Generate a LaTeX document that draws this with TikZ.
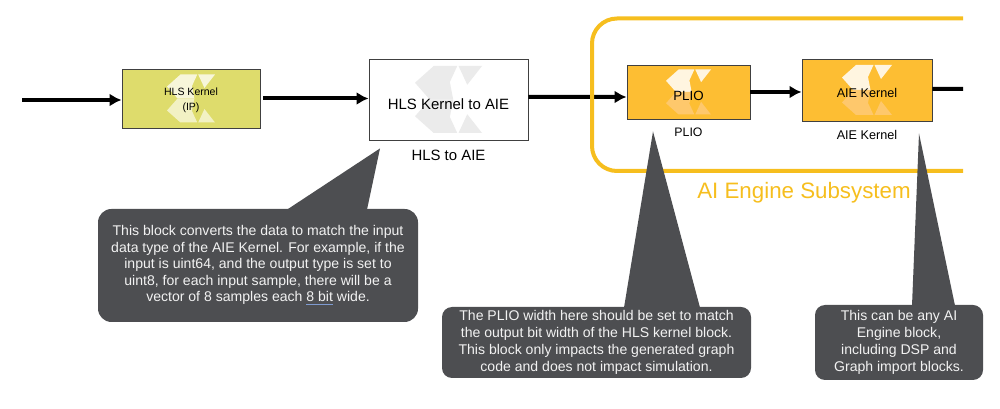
\documentclass[tikz,border=0pt]{standalone}
\usepackage{fontspec}
\setmainfont{Liberation Sans}
\usepackage{xcolor}
\usetikzlibrary{arrows.meta,positioning,shadows}

\definecolor{calloutgray}{HTML}{4D4E51}
\definecolor{subsysyellow}{HTML}{F6BE1E}
\definecolor{kernelgreen}{HTML}{DEDC6C}
\definecolor{blockorange}{HTML}{FDBE33}
\definecolor{spellblue}{HTML}{7F9BD0}

\begin{document}
\begin{tikzpicture}[
    auto,
    node distance=2cm,
    >={Latex[length=0.24cm,width=0.26cm]},
    pics/xlogo/.style 2 args={
		code={
			\fill [#1] (-.5,.25) -- (-.22,.5) -- (.13,.5) -- (.02,.26) -- (.07,0) -- (-.28,0) -- cycle;
			\fill [#1] (.15,.5) -- (.5,.5) -- (.28,.22) -- cycle;
			\fill [#2] (-.5,-.25) -- (-.22,-.5) -- (.13,-.5) -- (.02,-.26) -- (.07,0) -- (-.28,0) -- cycle;
			\fill [#2] (.15,-.5) -- (.5,-.5) -- (.28,-.22) -- cycle;
		}
	},
	block/.style={
		rectangle,
		draw=black!75,
		line width=0.5pt,
		inner sep=0pt,
		text centered,
		align=center,
		text=black
	},
	shadowed/.style={
		drop shadow={shadow xshift=0.02cm, shadow yshift=-0.03cm, opacity=0.35}
	},
	wire/.style={
		->,
		line width=0.08cm
	},
	subsys/.style={
		draw=subsysyellow,
		line width=0.08cm,
		rounded corners=0.5cm
	},
	callout/.style={
		rectangle,
		rounded corners=0.2cm,
		fill=calloutgray,
		text=white!95!black,
		inner sep=0pt,
		align=center,
		font=\fontsize{8}{9.6}\selectfont
	},
	pointer/.style={
		fill=calloutgray
	},
	caption/.style={
		inner sep=0pt,
		text=black
	}
  ]

 \useasboundingbox (0,0) rectangle (20,-8.18);

 \node [block, shadowed, fill=kernelgreen, minimum width=2.76cm, minimum height=1.18cm,
 font=\fontsize{6}{8.8}\selectfont,
 path picture={\pic [scale=0.96] at (path picture bounding box.center) {xlogo={fill=white!75!kernelgreen}{fill=white!60!kernelgreen}};}]
 (kernel) at (3.82,-1.97) {\rule{0pt}{6.6pt}HLS Kernel\\(IP)};

 \node [block, fill=white, minimum width=3.18cm, minimum height=1.62cm, right of=kernel, xshift=3.15cm, yshift=-0.02cm,
 font=\fontsize{8.5}{10}\selectfont, text height=0.4cm,
 path picture={\pic [scale=1.34] at (path picture bounding box.center) {xlogo={fill=black!8!white}{fill=black!8!white}};}]
 (hlsaie) {HLS Kernel to AIE};

 \node [block, shadowed, fill=blockorange, minimum width=2.46cm, minimum height=1.08cm, right of=hlsaie, xshift=2.8cm, yshift=0.15cm,
 font=\fontsize{7.6}{9}\selectfont, text height=0.36cm,
 path picture={\pic [scale=0.9] at (path picture bounding box.center) {xlogo={fill=white!85!blockorange}{fill=white!65!orange!50!blockorange}};}]
 (plio) {PLIO};

 \node [block, shadowed, fill=blockorange, minimum width=2.6cm, minimum height=1.24cm, right of=plio, xshift=1.57cm, yshift=0.04cm,
 font=\fontsize{7.2}{9}\selectfont, text height=0.3cm,
 path picture={\pic [scale=1.0] at (path picture bounding box.center) {xlogo={fill=white!85!blockorange}{fill=white!65!orange!50!blockorange}};}]
 (aie) {AIE Kernel};

% block names
 \node [caption, below of=hlsaie, yshift=0.89cm, font=\fontsize{8.5}{10}\selectfont] (hlscap) {HLS to AIE};
 \node [caption, below of=plio, yshift=1.19cm, font=\fontsize{7}{9}\selectfont] (pliocap) {PLIO};
 \node [caption, below of=aie, yshift=1.11cm, font=\fontsize{7.2}{9}\selectfont] (aiecap) {AIE Kernel};

% free ends
 \coordinate (infeed) at (0.44,-2);
 \coordinate (outfeed) at (19.26,-1.78);
 \coordinate (subtop) at (19.26,-0.37);
 \coordinate (subbot) at (19.26,-3.42);
 \coordinate (subleft) at (11.84,-1.9);

 \draw [wire] (infeed) -- (infeed -| kernel.west);
 \draw [wire, shorten <=0.06cm] (kernel.east) -- (kernel.east -| hlsaie.west);
 \draw [wire] ([yshift=0.05cm]hlsaie.east) -- ([yshift=-0.1cm]plio.west);
 \draw [wire] (plio.east) -- (plio.east -| aie.west);
 \draw [line width=0.08cm] ([yshift=0.02cm]aie.east) -- (outfeed);

% // The subsystem
 \draw [subsys] (subtop) -| (subleft) |- (subbot);
 \node [below of=aie, xshift=-1.26cm, yshift=-0.06cm, inner sep=0pt, text=subsysyellow, font=\fontsize{12.7}{15}\selectfont] (subname) {AI Engine Subsystem};

% // The callouts
 \node [callout, rounded corners=0.27cm, below of=kernel, xshift=1.34cm, yshift=-1.34cm, minimum width=6.4cm, minimum height=2.26cm, font=\fontsize{8}{9.4}\selectfont] (note1)
 {This block converts the data to match the input\\
  data type of the AIE Kernel. For example, if the\\
  input is uint64, and the output type is set to\\
  uint8, for each input sample, there will be a\\
  vector of 8 samples each {\color{spellblue}\underline{\color{white!95!black}8 bit}} wide.};

 \node [callout, below of=plio, xshift=-1.84cm, yshift=-3.01cm, minimum width=6.18cm, minimum height=1.42cm] (note2)
 {The PLIO width here should be set to match\\
  the output bit width of the HLS kernel block.\\
  This block only impacts the generated graph\\
  code and does not impact simulation.};

 \node [callout, below of=aie, xshift=0.64cm, yshift=-3.05cm, minimum width=3.36cm, minimum height=1.5cm] (note3)
 {This can be any AI\\
  Engine block,\\
  including DSP and\\
  Graph import blocks.};

 \fill [pointer] ([xshift=-1.37cm, yshift=-0.16cm]hlsaie.south) -- ([xshift=0.58cm, yshift=-0.02cm]note1.north) -- ([xshift=2.18cm, yshift=-0.02cm]note1.north) -- cycle;
 \fill [pointer] ([xshift=-0.71cm, yshift=-0.24cm]plio.south) -- ([xshift=0.55cm, yshift=-0.02cm]note2.north) -- ([xshift=2.07cm, yshift=-0.02cm]note2.north) -- cycle;
 \fill [pointer] ([xshift=1.04cm, yshift=-0.24cm]aie.south) -- ([xshift=0.26cm, yshift=-0.02cm]note3.north) -- ([xshift=1.12cm, yshift=-0.02cm]note3.north) -- cycle;

\end{tikzpicture}
\end{document}
